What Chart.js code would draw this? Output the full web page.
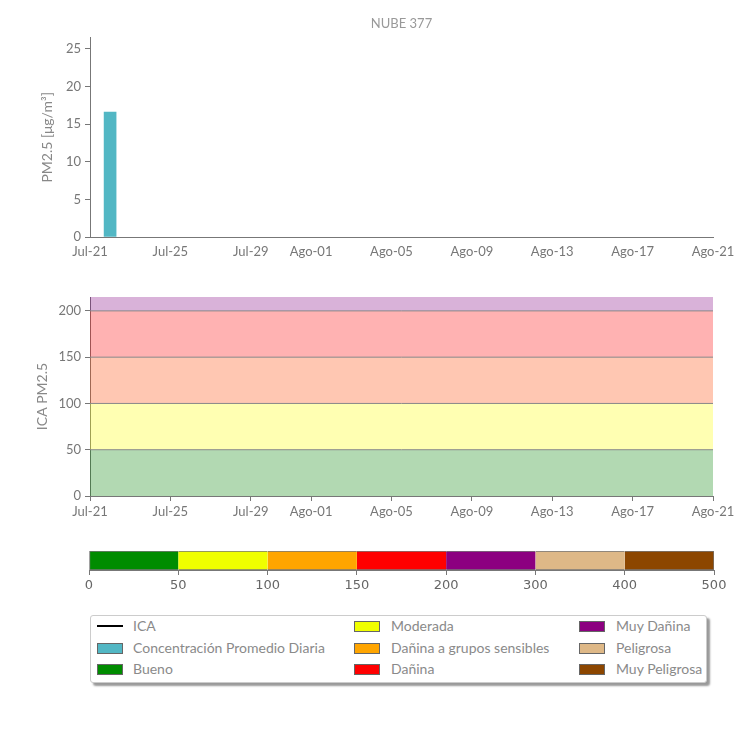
<!DOCTYPE html>
<html><head><meta charset="utf-8">
<script src="https://cdn.jsdelivr.net/npm/chart.js@4/dist/chart.umd.min.js"></script>
<style>
body{margin:0;background:#fff;width:750px;height:750px;overflow:hidden;font-family:Lato,sans-serif}
.box{position:absolute;left:0;width:750px}
#w1{top:0;height:270px}
#w2{top:270px;height:260px}
#w3{top:540px;height:60px}
#legend{position:absolute;left:90px;top:615px;width:615px;height:66px;border:1px solid #ccc;border-radius:3px;box-shadow:3px 3px 2px #999;background:#fff}
.it{position:absolute;height:22px;line-height:22px;font-size:14px;color:#8a8a8a;white-space:nowrap}
.sw{position:absolute;width:24px;height:9px;border:1px solid #666;}
.ln{position:absolute;width:26px;height:2px;background:#000}
</style></head>
<body>
<div class="box" id="w1"><canvas id="c1"></canvas></div>
<div class="box" id="w2"><canvas id="c2"></canvas></div>
<div class="box" id="w3"><canvas id="c3"></canvas></div>
<div id="legend"></div>
<script>
// ---- data ----
const tickDays = [0, 4, 8, 11, 15, 19, 23, 27, 31];
const tickLabels = ["Jul-21","Jul-25","Jul-29","Ago-01","Ago-05","Ago-09","Ago-13","Ago-17","Ago-21"];
const concDays = [1];
const concValues = [16.6];
const concTicks = [0, 5, 10, 15, 20, 25];
const icaTicks = [0, 50, 100, 150, 200];
const bandLimits = [50, 100, 150, 200, 300];
const bandColors = ["rgba(0,128,0,0.3)","rgba(255,255,0,0.3)","rgba(255,69,0,0.3)","rgba(255,0,0,0.3)","rgba(128,0,128,0.3)"];
const colorbarBreaks = [0, 50, 100, 150, 200, 300, 400, 500];
const colorbarColors = ["rgb(0,140,0)","rgb(240,255,0)","rgb(255,165,0)","rgb(255,0,0)","rgb(140,0,128)","rgb(222,184,135)","rgb(140,70,0)"];
const legendItems = [
  {label:"ICA", type:"line", color:"#000"},
  {label:"Concentración Promedio Diaria", color:"rgb(82,183,196)"},
  {label:"Bueno", color:"rgb(0,140,0)"},
  {label:"Moderada", color:"rgb(240,255,0)"},
  {label:"Dañina a grupos sensibles", color:"rgb(255,165,0)"},
  {label:"Dañina", color:"rgb(255,0,0)"},
  {label:"Muy Dañina", color:"rgb(140,0,128)"},
  {label:"Peligrosa", color:"rgb(222,184,135)"},
  {label:"Muy Peligrosa", color:"rgb(140,70,0)"}
];

const axisGray = '#777';
const tickFont = {family:'Lato', size:13};

function dateXAxis(withTicks){
  return {
    type:'linear', min:0, max:31, offset:false,
    afterBuildTicks: s => { s.ticks = tickDays.map(v => ({value:v})); },
    ticks:{autoSkip:false, maxRotation:0, color:axisGray, font:tickFont, padding: withTicks?3:7,
      callback: v => tickLabels[tickDays.indexOf(v)]},
    grid:{display:withTicks, drawOnChartArea:false, drawTicks:withTicks, tickLength:5, color:axisGray, offset:false},
    border:{display:true, color:axisGray}
  };
}

// ---- top chart ----
new Chart(document.getElementById('c1'), {
  type:'bar',
  data:{datasets:[{
    label:'Concentración Promedio Diaria',
    data: concDays.map((d,i)=>({x:d, y:concValues[i]})),
    backgroundColor:'rgb(82,183,196)', barThickness:12
  }]},
  options:{
    responsive:true, maintainAspectRatio:false, animation:false,
    layout:{padding:{left:0,right:37,top:0,bottom:0}},
    plugins:{legend:{display:false}, tooltip:{enabled:false},
      title:{display:true, text:'NUBE 377', fullSize:false, color:'#999', font:{family:'Lato', size:13, weight:'normal'}, padding:{top:16,bottom:6}}},
    scales:{
      x: Object.assign(dateXAxis(false), {afterFit: s => { s.height = 33; }}),
      y:{min:0, max:26.5, afterBuildTicks: s => { s.ticks = concTicks.map(v=>({value:v})); },
        ticks:{color:axisGray, font:tickFont, padding:4},
        grid:{display:true, drawOnChartArea:false, tickLength:5, color:axisGray},
        border:{display:true, color:axisGray},
        title:{display:true, text:'PM2.5 [μg/m³]', color:'#888', font:{family:'Lato', size:14}, padding:{top:39,bottom:0}},
        afterFit: s => { s.width = 90; }}
    }
  }
});

// ---- ICA chart ----
new Chart(document.getElementById('c2'), {
  type:'line',
  data:{datasets: bandLimits.map((v,i)=>({
    data:[{x:0,y:v},{x:31,y:v}],
    fill: i===0 ? 'origin' : '-1',
    backgroundColor: bandColors[i],
    borderColor:'#888', borderWidth: i===bandLimits.length-1 ? 0 : 1,
    pointRadius:0
  }))},
  options:{
    responsive:true, maintainAspectRatio:false, animation:false,
    layout:{padding:{left:0,right:37,top:27,bottom:0}},
    plugins:{legend:{display:false}, tooltip:{enabled:false}},
    scales:{
      x: Object.assign(dateXAxis(true), {afterFit: s => { s.height = 34; }}),
      y:{min:0, max:215, afterBuildTicks: s => { s.ticks = icaTicks.map(v=>({value:v})); },
        ticks:{color:axisGray, font:tickFont, padding:4},
        grid:{display:true, drawOnChartArea:false, tickLength:5, color:axisGray},
        border:{display:true, color:axisGray},
        title:{display:true, text:'ICA PM2.5', color:'#888', font:{family:'Lato', size:14}, padding:{top:34,bottom:0}},
        afterFit: s => { s.width = 90; }}
    }
  }
});

// ---- colorbar ----
new Chart(document.getElementById('c3'), {
  type:'bar',
  data:{labels:['ICA'], datasets: colorbarColors.map((c,i)=>({
    data:[[i, i+1]], backgroundColor:c, borderColor:axisGray,
    borderWidth:{top:1, bottom:1, left: i===0?1:0, right: i===colorbarColors.length-1?1:0},
    borderSkipped:false, barPercentage:1, categoryPercentage:1, grouped:false
  }))},
  options:{
    indexAxis:'y', responsive:true, maintainAspectRatio:false, animation:false,
    layout:{padding:{left:89,right:36,top:11,bottom:0}},
    plugins:{legend:{display:false}, tooltip:{enabled:false}},
    scales:{
      y:{type:'category', display:false},
      x:{type:'linear', min:0, max:7, offset:false,
        afterBuildTicks: s => { s.ticks = colorbarBreaks.map((b,i)=>({value:i})); },
        ticks:{autoSkip:false, maxRotation:0, color:'#666', font:{family:'DejaVu Sans', size:13}, padding:3,
          callback: v => String(colorbarBreaks[v])},
        grid:{display:true, drawOnChartArea:false, tickLength:5, color:axisGray, offset:false},
        border:{display:true, color:axisGray},
        afterFit: s => { s.height = 30; }}
    }
  }
});

// ---- legend ----
const lg = document.getElementById('legend');
const colX = [[6,42],[263,300],[488,525]];
const rowY = [-1, 21, 42];
legendItems.forEach((it, k) => {
  const col = Math.floor(k/3), row = k%3;
  const [sx, tx] = colX[col];
  const y = rowY[row];
  const m = document.createElement('div');
  if (it.type === 'line') { m.className='ln'; m.style.left=sx+'px'; m.style.top=(y+10)+'px'; }
  else { m.className='sw'; m.style.left=sx+'px'; m.style.top=(y+6)+'px'; m.style.background=it.color; }
  lg.appendChild(m);
  const t = document.createElement('div');
  t.className='it'; t.style.left=tx+'px'; t.style.top=y+'px'; t.textContent=it.label;
  lg.appendChild(t);
});
</script>
</body></html>
